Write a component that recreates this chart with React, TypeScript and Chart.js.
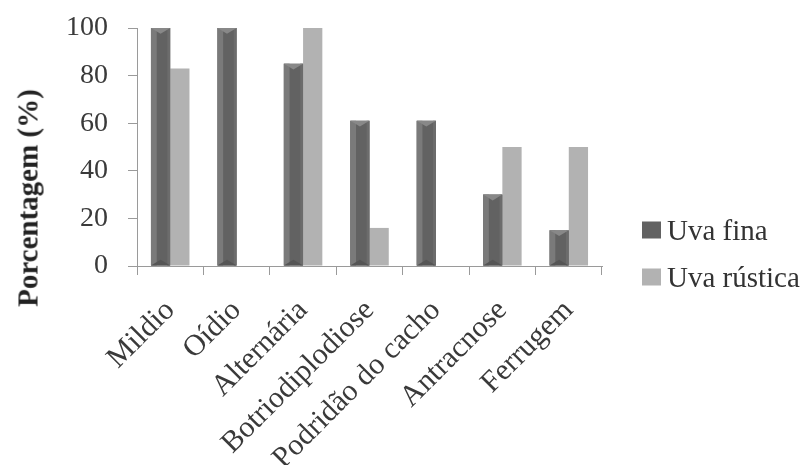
import React, { useEffect, useRef } from "react";
import { Chart, registerables } from "chart.js";

Chart.register(...registerables);

const categories = [
  "Mildio",
  "Oídio",
  "Alternária",
  "Botriodiplodiose",
  "Podridão do cacho",
  "Antracnose",
  "Ferrugem",
];
const uvaFina = [100, 100, 85, 61, 61, 30, 15];
const uvaRustica = [83, 0, 100, 16, 0, 50, 50];
const seriesNames = ["Uva fina", "Uva rústica"];
const seriesColors = ["#626262", "#b2b2b2"];
const yTicks = [0, 20, 40, 60, 80, 100];
const yTitle = "Porcentagem (%)";

const FONT = "'Liberation Serif', 'Times New Roman', serif";

const bevelPlugin = {
  id: "bevel",
  afterDatasetsDraw(chart: any) {
    const meta = chart.getDatasetMeta(0);
    const ctx = chart.ctx;
    meta.data.forEach((el: any) => {
      const { x, y, base, width } = el.getProps(["x", "y", "base", "width"], true);
      const L = x - width / 2;
      const R = x + width / 2;
      const T = Math.min(y, base);
      const B = Math.max(y, base);
      if (B - T < 2) return;
      const b = Math.min(width * 0.3, (B - T) / 2);
      ctx.save();
      ctx.fillStyle = "#7a7a7a";
      ctx.fillRect(L, T, b, B - T);
      ctx.fillStyle = "#6c6c6c";
      ctx.fillRect(R - b * 0.5, T, b * 0.5, B - T);
      ctx.beginPath();
      ctx.moveTo(L, T);
      ctx.lineTo(R, T);
      ctx.lineTo(x, T + b);
      ctx.closePath();
      ctx.fillStyle = "#888888";
      ctx.fill();
      ctx.beginPath();
      ctx.moveTo(L, B);
      ctx.lineTo(R, B);
      ctx.lineTo(x, B - b);
      ctx.closePath();
      ctx.fillStyle = "#555555";
      ctx.fill();
      ctx.restore();
    });
  },
};

export default function App() {
  const ref = useRef<HTMLCanvasElement>(null);
  useEffect(() => {
    if (!ref.current) return;
    const chart = new Chart(ref.current, {
      type: "bar",
      data: {
        labels: categories,
        datasets: [
          {
            label: seriesNames[0],
            data: uvaFina,
            backgroundColor: seriesColors[0],
            categoryPercentage: 0.58,
            barPercentage: 1.0,
          },
          {
            label: seriesNames[1],
            data: uvaRustica,
            backgroundColor: seriesColors[1],
            categoryPercentage: 0.58,
            barPercentage: 1.0,
          },
        ],
      },
      options: {
        animation: false,
        responsive: true,
        maintainAspectRatio: false,
        layout: { padding: { left: 0, right: 198, top: 20, bottom: 0 } },
        plugins: {
          legend: { display: false },
          tooltip: { enabled: false },
        },
        scales: {
          x: {
            grid: {
              display: true,
              offset: true,
              drawOnChartArea: false,
              tickLength: 9,
              color: "#9a9a9a",
            },
            border: { color: "#9a9a9a" },
            ticks: {
              color: "#3a3a3a",
              font: { family: FONT, size: 30 },
              maxRotation: 45,
              minRotation: 45,
              autoSkip: false,
              padding: 18,
            },
            afterFit: (s: any) => {
              s.height = 199;
            },
          },
          y: {
            min: 0,
            max: 100,
            afterBuildTicks: (s: any) => {
              s.ticks = yTicks.map((v) => ({ value: v }));
            },
            grid: {
              display: true,
              drawOnChartArea: false,
              tickLength: 9,
              color: "#9a9a9a",
            },
            border: { color: "#9a9a9a" },
            ticks: {
              color: "#3a3a3a",
              font: { family: FONT, size: 28 },
              padding: 20,
            },
            afterFit: (s: any) => {
              s.width = 129;
              s.paddingTop = 0;
              s.paddingBottom = 0;
            },
          },
        },
      },
      plugins: [bevelPlugin],
    });
    return () => chart.destroy();
  }, []);

  const legendTops = [222, 269];
  return (
    <div style={{ position: "relative", width: 792, height: 457 }}>
      <canvas ref={ref} />
      <div
        style={{
          position: "absolute",
          left: 20,
          top: 190,
          transform: "translate(-50%, -50%) rotate(-90deg)",
          fontFamily: FONT,
          fontWeight: "bold",
          fontSize: 29,
          color: "#222",
          whiteSpace: "nowrap",
          lineHeight: 1,
        }}
      >
        {yTitle}
      </div>
      {seriesNames.map((name, i) => (
        <div
          key={name}
          style={{
            position: "absolute",
            left: 634,
            top: legendTops[i],
            transform: "translateY(-50%)",
            display: "flex",
            alignItems: "center",
            fontFamily: FONT,
            fontSize: 29,
            color: "#333",
            whiteSpace: "nowrap",
            lineHeight: 1,
          }}
        >
          <span
            style={{
              display: "inline-block",
              width: 19,
              height: 17,
              background: seriesColors[i],
              marginRight: 6,
            }}
          />
          <span>{name}</span>
        </div>
      ))}
    </div>
  );
}
